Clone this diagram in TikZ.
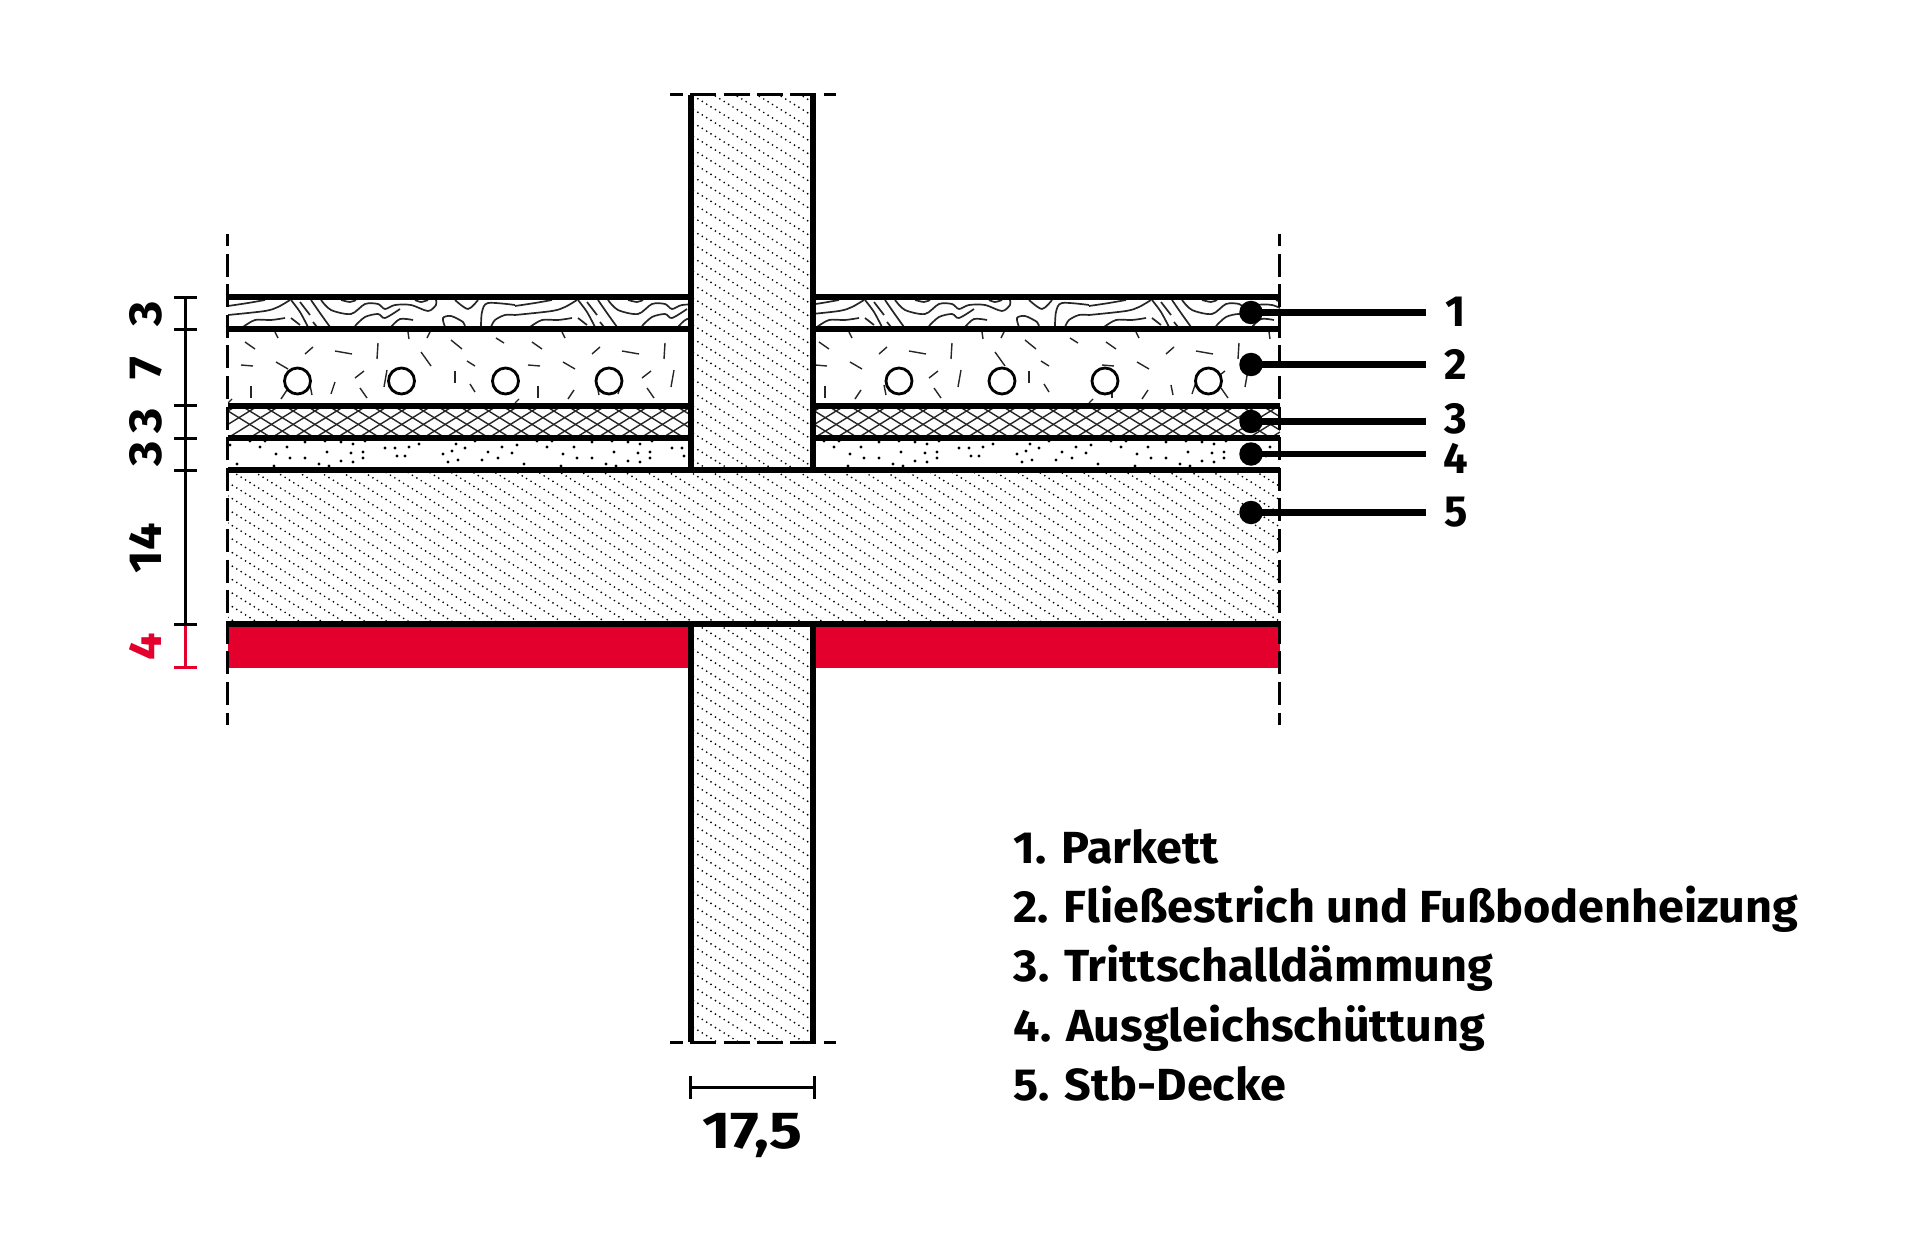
\documentclass[tikz,border=0pt]{standalone}
\usepackage{fontspec}
\setmainfont{Fira Sans}
\usetikzlibrary{positioning}

\definecolor{markred}{RGB}{228,0,45}

\tikzset{
  heavy/.style={line width=0.6mm},
  cutline/.style={line width=0.33mm,dash pattern=on 2.3mm off 0.76mm,dash phase=1.1mm},
  capline/.style={line width=0.3mm,dash pattern=on 2.6mm off 0.73mm,dash phase=1.3mm},
  dimline/.style={line width=0.3mm},
  grain/.style={line width=0.17mm,black!85},
  fleck/.style={line width=0.14mm,black!85},
  bullet/.style={circle,fill=black,inner sep=0pt,minimum size=2.35mm},
  lead/.style={line width=0.62mm},
  refnum/.style={font=\fontsize{12.4}{14}\selectfont\bfseries,inner sep=0pt,anchor=base},
  dimnum/.style={font=\fontsize{13.2}{14}\selectfont\bfseries\addfontfeature{FakeStretch=1.05},inner sep=0pt,anchor=base,rotate=90},
  legend/.style={font=\fontsize{12.8}{15}\selectfont\bfseries\addfontfeature{FakeStretch=1.04},inner sep=0pt,anchor=base west}
}

% one tile of the parquet grain, 287 wide
\newcommand{\woodtile}{
  \draw[grain] plot[smooth] coordinates {(0,9) (20,6) (37,3)};
  \draw[grain] plot[smooth] coordinates {(0,18) (37,14) (50,10) (62,3)};
  \draw[grain] plot[smooth] coordinates {(15,30) (27,23) (43,23) (57,21)};
  \draw[grain] plot[smooth] coordinates {(63,21) (72,28)};
  \draw[grain] plot[smooth] coordinates {(63,3) (72,15) (80,30)};
  \draw[grain] plot[smooth] coordinates {(72,5) (82,18)};
  \draw[grain] plot[smooth] coordinates {(83,3) (92,16) (102,30)};
  \draw[grain] plot[smooth] coordinates {(85,25) (89,30)};
  \draw[grain] plot[smooth] coordinates {(93,3) (103,13) (123,17) (137,7) (150,7) (157,12) (167,8) (183,8) (200,14) (208,8) (208,3)};
  \draw[grain] plot[smooth] coordinates {(113,3) (122,5) (128,3)};
  \draw[grain] plot[smooth] coordinates {(127,29) (137,20) (150,17) (157,21) (172,12)};
  \draw[grain] plot[smooth] coordinates {(163,30) (172,22) (185,23)};
  \draw[grain] plot[smooth] coordinates {(187,3) (193,5) (200,3)};
  \draw[grain] plot[smooth] coordinates {(227,3) (240,12) (250,3)};
  \draw[grain] plot[smooth] coordinates {(217,30) (215,21) (223,19) (235,25) (237,30)};
  \draw[grain] plot[smooth] coordinates {(253,30) (254,15) (260,6) (287,8)};
  \draw[grain] plot[smooth] coordinates {(263,30) (267,23) (277,18) (287,18)};
}

\begin{document}
\begin{tikzpicture}[x=0.1mm,y=-0.1mm]
  \useasboundingbox (0,0) rectangle (1920,1252);

  % parquet
  \begin{scope}
    \clip (228,297.5) rectangle (1280,329.5);
    \foreach \tile in {0,...,3} {
      \begin{scope}[shift={(228+287*\tile,297)}]
        \woodtile
      \end{scope}
    }
  \end{scope}

  % screed flecks
  \begin{scope}
    \clip (228,329.5) rectangle (1280,405.5);
    \foreach \tile in {0,...,3}
      \foreach \xa/\ya/\xb/\yb in {17/17/27/24,77/29/85/22,107/26/124/29,150/18/149/34,193/27/203/41,223/15/234/24,268/13/276/18,47/7/50/13,180/7/181/14,202/7/199/13,13/40/25/41,48/37/60/44,239/36/247/41,127/53/136/46,23/61/23/73,53/74/59/65,107/57/103/69,132/63/139/73,159/45/156/62,227/46/227/58,242/59/247/67,82/60/84/70,0/78/4/74}
        \draw[fleck,shift={(228+287*\tile,325)}] (\xa,\ya) -- (\xb,\yb);
  \end{scope}

  % heating pipes
  \foreach \px in {297.5,401.5,505.5,609,899,1002,1105,1208.5}
    \draw[line width=0.28mm,fill=white] (\px,381) circle (13);

  % impact sound insulation
  \begin{scope}
    \clip (228,405.5) rectangle (1280,438);
    \foreach \k in {-60,...,0}
      \draw[fleck] (228,411+\k*13.4) -- (1280,411+\k*13.4+649);
    \foreach \k in {0,...,60}
      \draw[fleck] (228,411+\k*13.4) -- (1280,411+\k*13.4-649);
  \end{scope}

  % levelling fill
  \begin{scope}
    \clip (228,438) rectangle (1280,470);
    \foreach \tile in {0,...,3}
      \foreach \dx/\dy in {2/7,22/3,37/3,32/9,59/9,77/4,97/3,113/4,125/6,137/3,48/16,62/20,77/20,99/14,123/15,135/14,135/20,113/23,125/24,9/26,46/28,91/26,101/28,157/10,167/10,181/9,191/6,169/18,177/18,228/6,224/13,237/10,247/3,215/16,220/24,230/22,260/14,274/9,284/15,270/20,254/22}
        \fill[shift={(228+287*\tile,438)}] (\dx,\dy) circle (1.6);
  \end{scope}

  % red layer
  \fill[markred] (228,624) rectangle (1280,668);

  % wall and slab
  \fill[white] (691,95) rectangle (813,1042);
  \begin{scope}
    \clip (228,470) rectangle (1280,624) (691,95) rectangle (813,1042);
    \foreach \k in {0,...,120}
      \draw[line width=0.19mm,black,line cap=round,dash pattern=on 0pt off 1.47pt]
        (228,-557+\k*13.5) -- (1280,-557+\k*13.5+652);
  \end{scope}

  % layer lines
  \foreach \ly in {297.5,329.5,405.5,438} {
    \draw[heavy] (228,\ly) -- (691,\ly);
    \draw[heavy] (813,\ly) -- (1280,\ly);
  }
  \draw[heavy] (228,470) -- (1280,470);
  \draw[heavy] (228,624) -- (1280,624);
  \draw[heavy] (691,95) -- (691,470);
  \draw[heavy] (813,95) -- (813,470);
  \draw[heavy] (691,624) -- (691,1042);
  \draw[heavy] (813,624) -- (813,1042);

  % cut ends
  \draw[cutline] (227.5,234) -- (227.5,725);
  \draw[cutline] (1279.5,234) -- (1279.5,725);
  \draw[capline] (670,95) -- (836,95);
  \draw[capline] (670,1042.5) -- (836,1042.5);

  % dimensions left
  \draw[dimline] (185,297.5) -- (185,624);
  \foreach \ty in {297.5,329.5,405.5,438,470,624}
    \draw[dimline] (174,\ty) -- (196.5,\ty);
  \draw[dimline,markred] (185,626) -- (185,667.5);
  \draw[dimline,markred] (174,667.5) -- (196.5,667.5);

  \node[dimnum] (d3a) at (161,314) {3};
  \node[dimnum] (d7) at (161,368) {7};
  \node[dimnum] (d3b) at (161,421) {3};
  \node[dimnum] (d3c) at (161,453.5) {3};
  \node[dimnum] (d14) at (161,548) {14};
  \node[dimnum,text=markred] (d4) at (161,646.5) {4};

  % dimension below
  \draw[dimline] (690.5,1087) -- (814,1087);
  \draw[dimline] (690.5,1076) -- (690.5,1099);
  \draw[dimline] (814,1076) -- (814,1099);
  \node[refnum,font=\fontsize{14.8}{16}\selectfont\bfseries\addfontfeature{FakeStretch=1.18}] (wallnum) at (752.5,1148) {17,5};

  % reference marks
  \node[bullet] (b1) at (1251,312.5) {};
  \node[bullet] (b2) at (1251,364.5) {};
  \node[bullet] (b3) at (1251,421.5) {};
  \node[bullet] (b4) at (1251,454) {};
  \node[bullet] (b5) at (1251,512.5) {};
  \coordinate (e1) at (1426,312.5);
  \coordinate (e2) at (1426,364.5);
  \coordinate (e3) at (1426,421.5);
  \coordinate (e4) at (1426,454);
  \coordinate (e5) at (1426,512.5);
  \foreach \m in {1,...,5}
    \draw[lead] (b\m.center) -- (e\m);
  \node[refnum] (n1) at (1456,326.5) {1};
  \node[refnum] (n2) at (1456,380) {2};
  \node[refnum] (n3) at (1456,433) {3};
  \node[refnum] (n4) at (1456,474) {4};
  \node[refnum] (n5) at (1456,526.5) {5};

  % legend
  \node[legend] (l1) at (1013,863) {1. Parkett};
  \node[legend] (l2) at (1013,922) {2. Fließestrich und Fußbodenheizung};
  \node[legend] (l3) at (1013,981.5) {3. Trittschalldämmung};
  \node[legend] (l4) at (1013,1041) {4. Ausgleichschüttung};
  \node[legend] (l5) at (1013,1100) {5. Stb-Decke};
\end{tikzpicture}
\end{document}
